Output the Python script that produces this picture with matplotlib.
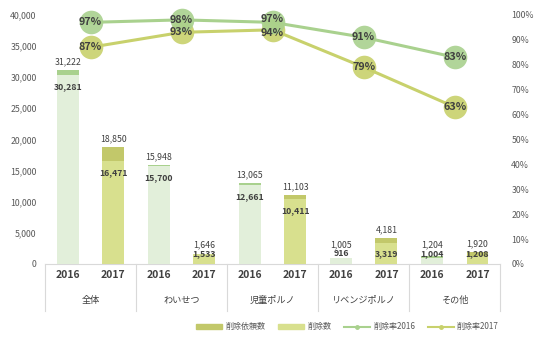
import matplotlib
matplotlib.use('Agg')
import matplotlib.pyplot as plt
from matplotlib.patches import Patch
from matplotlib.lines import Line2D
import numpy as np

plt.rcParams['font.family'] = ['Noto Sans CJK JP', 'DejaVu Sans']

# データ
groups = ['全体', 'わいせつ', '児童ポルノ', 'リベンジポルノ', 'その他']
years = ['2016', '2017']
req_2016 = [31222, 15948, 13065, 1005, 1204]   # 削除依頼数 2016
del_2016 = [30281, 15700, 12661, 916, 1004]    # 削除数 2016
req_2017 = [18850, 1646, 11103, 4181, 1920]    # 削除依頼数 2017
del_2017 = [16471, 1533, 10411, 3319, 1208]    # 削除数 2017
rate_2016 = [97, 98, 97, 91, 83]               # 削除率2016 (%)
rate_2017 = [87, 93, 94, 79, 63]               # 削除率2017 (%)

# 色
c16_req = '#a9d18e'
c16_del = '#e2efda'
c17_req = '#c2c86a'
c17_del = '#d8e08e'
line16 = '#a9d18e'
line17 = '#c8d16c'
txt = '#404040'
grid = '#d9d9d9'

fig = plt.figure(figsize=(5.39, 3.46), dpi=100)
ax = fig.add_axes([0.0835, 0.237, 0.8445, 0.72])
ax2 = ax.twinx()

x = np.arange(len(groups))
w = 0.24
off = 0.25
upx = 40000 / 248.0  # データ単位 / ピクセル

for xs, req, dl, creq, cdel in [(x - off, req_2016, del_2016, c16_req, c16_del),
                                (x + off, req_2017, del_2017, c17_req, c17_del)]:
    ax.bar(xs, req, width=w, color=creq, zorder=2)
    ax.bar(xs, dl, width=w, color=cdel, zorder=3)
    for xi, r, d in zip(xs, req, dl):
        yd = max(d - 11 * upx, 10 * upx)
        yr = max(r + 8 * upx, yd + 9 * upx)
        ax.text(xi, yd, f'{d:,}', ha='center', va='center', fontsize=6.3,
                color=txt, fontweight='bold', zorder=5)
        ax.text(xi, yr, f'{r:,}', ha='center', va='center', fontsize=6.3,
                color=txt, zorder=5)

ax.set_xlim(-0.5, len(groups) - 0.5)
ax.set_ylim(0, 40000)
ax.set_yticks(np.arange(0, 40001, 5000))
ax.set_yticklabels([f'{v:,}' for v in range(0, 40001, 5000)])
ax.tick_params(axis='y', length=0, labelsize=6.3, labelcolor='#595959', pad=6)

xt = np.concatenate([x - off, x + off])
ax.set_xticks(xt)
ax.set_xticklabels([years[0]] * len(groups) + [years[1]] * len(groups),
                   fontsize=7.5, fontweight='bold', color=txt)
ax.tick_params(axis='x', length=0, pad=4)

for s in ['top', 'left', 'right']:
    ax.spines[s].set_visible(False)
    ax2.spines[s].set_visible(False)
ax.spines['bottom'].set_color(grid)
ax2.spines['bottom'].set_visible(False)

# 区切り線とカテゴリ名
tr = ax.get_xaxis_transform()
for b in np.arange(-0.5, len(groups), 1.0):
    ax.plot([b, b], [0, -0.19], transform=tr, color=grid, lw=0.8, clip_on=False)
for xi, g in zip(x, groups):
    ax.text(xi, -0.145, g, transform=tr, ha='center', va='center',
            fontsize=6.6, color=txt)

# 削除率
ax2.plot(x, rate_2017, color=line17, lw=2.2, zorder=3)
ax2.plot(x, rate_2016, color=line16, lw=2.2, zorder=3)
ax2.plot(x, rate_2017, 'o', ms=17, color=line17, alpha=0.9, mec='none',
         zorder=4, clip_on=False)
ax2.plot(x, rate_2016, 'o', ms=17, color=line16, alpha=0.9, mec='none',
         zorder=4, clip_on=False)
for xi, a, b in zip(x, rate_2016, rate_2017):
    # 近い場合はラベルを上下に少しずらす
    sh = 2.5 if abs(a - b) < 5 else 0
    ax2.annotate(f'{a}%', (xi, a), xytext=(0, sh), textcoords='offset points',
                 ha='center', va='center', fontsize=7.8, fontweight='bold',
                 color=txt, zorder=6)
    ax2.annotate(f'{b}%', (xi, b), xytext=(0, -sh), textcoords='offset points',
                 ha='center', va='center', fontsize=7.8, fontweight='bold',
                 color=txt, zorder=6)

ax2.set_ylim(0, 100)
ax2.set_yticks(np.arange(0, 101, 10))
ax2.set_yticklabels([f'{v}%' for v in range(0, 101, 10)])
ax2.tick_params(axis='y', length=0, labelsize=6.3, labelcolor='#595959', pad=8)

# 凡例
handles = [Patch(color=c17_req), Patch(color=c17_del),
           Line2D([0], [0], color=line16, lw=1.5, marker='o', ms=2.5),
           Line2D([0], [0], color=line17, lw=1.5, marker='o', ms=2.5)]
labels = ['削除依頼数', '削除数', '削除率2016', '削除率2017']
fig.legend(handles, labels, loc='center', bbox_to_anchor=(0.645, 0.055), ncol=4,
           frameon=False, fontsize=5.8, labelcolor='#595959', handlelength=3.2,
           handleheight=0.5, handletextpad=0.4, columnspacing=1.6)

fig.savefig('out.png', dpi=100)
